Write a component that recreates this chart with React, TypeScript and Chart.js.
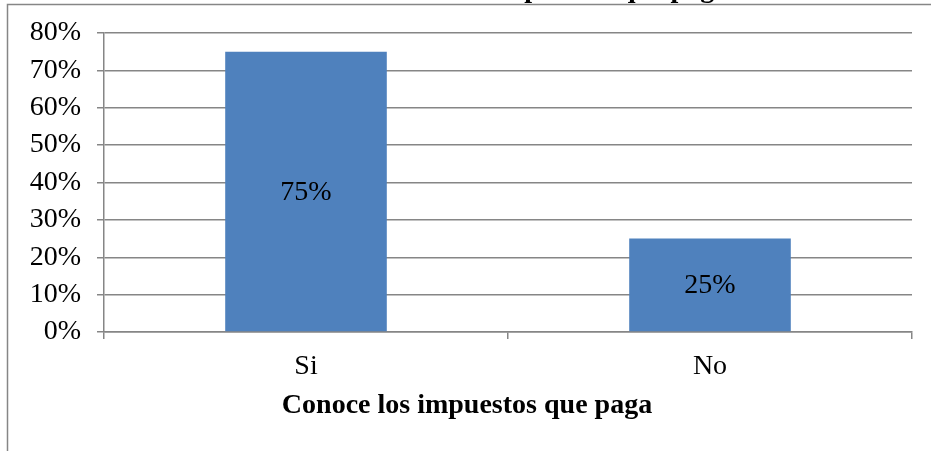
import React, { useEffect, useRef } from "react";
import { Chart, registerables } from "chart.js";

Chart.register(...registerables);

const categories: string[] = ["Si", "No"];
const values: number[] = [75, 25];
const yMin = 0;
const yMax = 80;
const yStep = 10;
const chartTitle = "Conoce los impuestos que paga";
const axisTitle = "Conoce los impuestos que paga";

const FONT_FAMILY = '"Liberation Serif", "Times New Roman", Times, serif';
const GRID = "#868686";
const BAR = "#4F81BD";
const FS = 28;

const decorPlugin = {
  id: "decor",
  afterDraw(chart: any) {
    const ctx = chart.ctx as CanvasRenderingContext2D;
    ctx.save();
    // outer chart border (left and top edges visible)
    ctx.strokeStyle = GRID;
    ctx.lineWidth = 1.5;
    ctx.beginPath();
    ctx.moveTo(7.5, 451);
    ctx.lineTo(7.5, 4.5);
    ctx.lineTo(931, 4.5);
    ctx.stroke();

    ctx.fillStyle = "#000";
    ctx.textAlign = "center";
    ctx.textBaseline = "alphabetic";
    ctx.font = `bold ${FS}px ${FONT_FAMILY}`;
    // chart title (mostly cut off at top)
    ctx.fillText(chartTitle, 543, -3);
    // x-axis title
    ctx.fillText(axisTitle, 467, 413);

    // data labels
    ctx.font = `${FS}px ${FONT_FAMILY}`;
    ctx.textBaseline = "middle";
    const meta = chart.getDatasetMeta(0);
    meta.data.forEach((bar: any, i: number) => {
      const v = chart.data.datasets[0].data[i];
      ctx.fillText(`${v}%`, bar.x, (bar.y + bar.base) / 2 + 1);
    });
    ctx.restore();
  },
};

export default function App() {
  const canvasRef = useRef<HTMLCanvasElement | null>(null);

  useEffect(() => {
    if (!canvasRef.current) return;
    const chart = new Chart(canvasRef.current, {
      type: "bar",
      data: {
        labels: categories,
        datasets: [
          {
            data: values,
            backgroundColor: BAR,
            borderWidth: 0,
            barPercentage: 0.4,
            categoryPercentage: 1,
          },
        ],
      },
      options: {
        responsive: false,
        animation: false,
        devicePixelRatio: 1,
        layout: { padding: { top: 33, right: 19, bottom: 0, left: 0 } },
        plugins: {
          legend: { display: false },
          title: { display: false },
          tooltip: { enabled: false },
        },
        scales: {
          x: {
            afterFit: (scale: any) => {
              scale.height = 119;
            },
            grid: {
              drawOnChartArea: false,
              drawTicks: true,
              tickLength: 7,
              color: GRID,
              lineWidth: 1.5,
              offset: true,
            },
            border: { color: GRID, width: 1.5 },
            ticks: {
              color: "#000",
              padding: 11,
              font: { family: FONT_FAMILY, size: FS },
            },
          },
          y: {
            min: yMin,
            max: yMax,
            afterFit: (scale: any) => {
              scale.width = 104;
            },
            grid: {
              color: GRID,
              lineWidth: 1.5,
              tickLength: 7,
            },
            border: { color: GRID, width: 1.5 },
            ticks: {
              stepSize: yStep,
              color: "#000",
              padding: 16,
              font: { family: FONT_FAMILY, size: FS },
              callback: (v: any) => `${v}%`,
            },
          },
        },
      },
      plugins: [decorPlugin],
    });
    return () => chart.destroy();
  }, []);

  return (
    <div style={{ position: "absolute", left: 0, top: 0, width: 931, height: 451, background: "#fff" }}>
      <canvas ref={canvasRef} width={931} height={451} style={{ display: "block", width: 931, height: 451 }} />
    </div>
  );
}
